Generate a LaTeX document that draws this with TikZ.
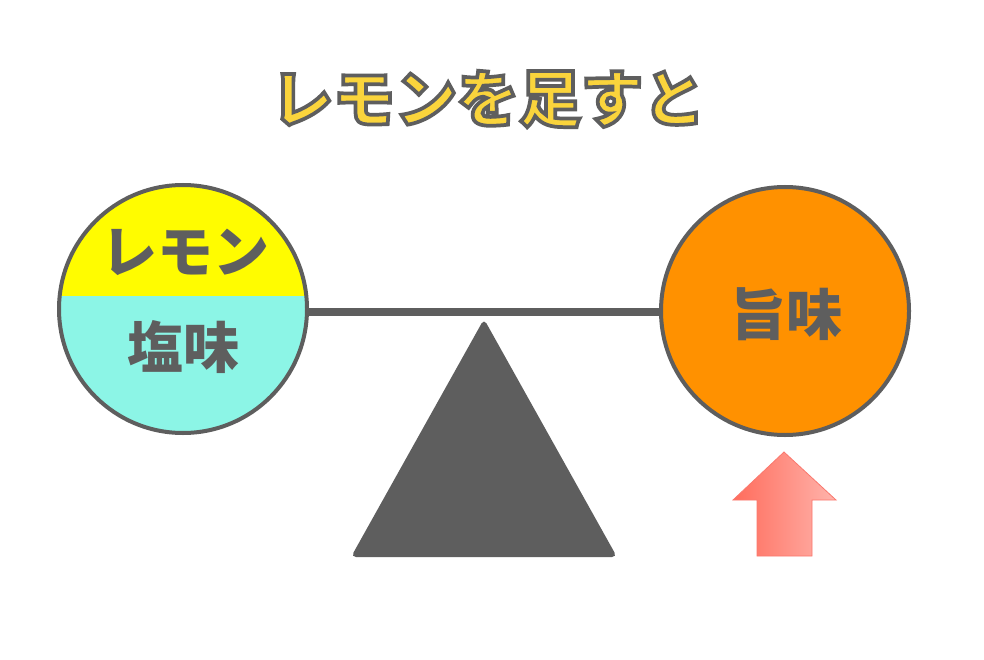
\documentclass[tikz,border=0pt]{standalone}
\usepackage{fontspec}
\newfontfamily\cjk{Noto Sans CJK JP}
\newfontfamily\cjkout{Noto Sans CJK JP}[BoldFeatures={FakeBold=6}]
\usetikzlibrary{calc}
\definecolor{ink}{RGB}{94,94,94}
\definecolor{lemon}{RGB}{255,252,0}
\definecolor{salt}{RGB}{140,245,230}
\definecolor{umami}{RGB}{255,145,0}
\definecolor{titley}{RGB}{250,212,60}
\definecolor{arrowL}{RGB}{255,108,92}
\definecolor{arrowR}{RGB}{255,180,172}
\definecolor{arrowE}{RGB}{250,120,110}
\tikzset{
  ball/.style={circle, minimum size=248pt, inner sep=0pt, draw=ink, line width=4pt},
  lbl/.style={text=ink, font=\cjk\bfseries\fontsize{56}{56}\selectfont, inner sep=0pt},
  ttl/.style={font=\cjkout\bfseries\fontsize{62}{62}\selectfont, inner sep=0pt}
}
\begin{document}
\begin{tikzpicture}[x=1pt,y=-1pt]
\useasboundingbox[fill=white] (0,0) rectangle (984,660);
% title with outline (stroke colour set to grey)
\node[ttl, text=titley] (title) at (488,99) {\special{pdf:code 0.37 0.37 0.37 RG}レモンを足すと};
% left circle halves
\begin{scope}
  \clip (183,309) circle[radius=124pt];
  \fill[lemon] (40,160) rectangle (330,296);
  \fill[salt] (40,296) rectangle (330,460);
\end{scope}
\node[ball] (L) at (183,309) {};
\node[lbl] (lemon) at (185,252) {レモン};
\node[lbl] (salt) at (183,347) {塩味};
% right circle
\node[ball, fill=umami] (R) at (785,311) {};
\node[lbl] (umami) at (786,314) {旨味};
% beam
\draw[ink, line width=8pt] (L.east |- 0,312) -- (R.west |- 0,312);
% fulcrum
\fill[ink, rounded corners=5pt] (484,319) -- (617,557) -- (351,557) -- cycle;
% arrow
\path[draw=arrowE, line width=0.8pt, left color=arrowL, right color=arrowR]
  (784,452) -- (836,500) -- (812,500) -- (812,556) -- (757,556) -- (757,500) -- (733,500) -- cycle;
\end{tikzpicture}
\end{document}
